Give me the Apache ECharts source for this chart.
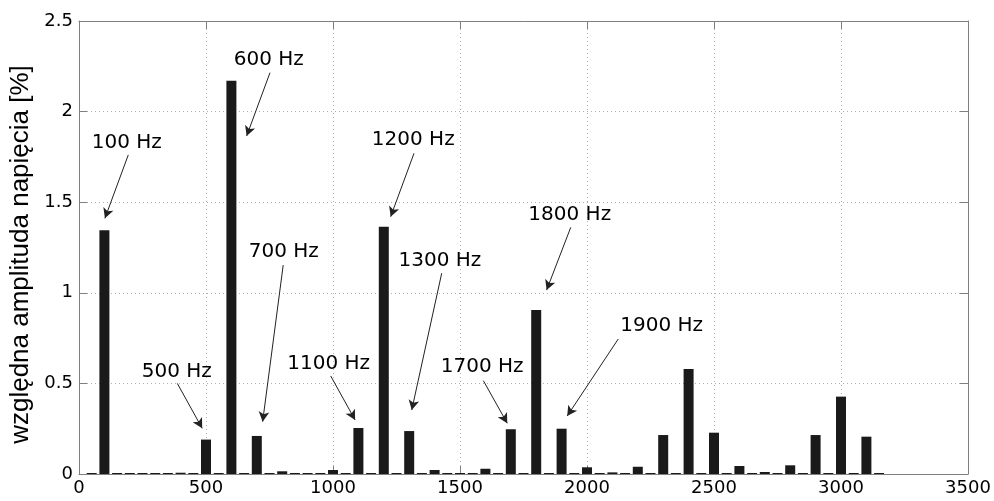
<!DOCTYPE html>
<html>
<head>
<meta charset="utf-8">
<script src="https://cdn.jsdelivr.net/npm/echarts@6/dist/echarts.min.js"></script>
<style>
html,body{margin:0;padding:0;background:#fff;}
#chart{width:994px;height:501px;}
</style>
</head>
<body>
<div id="chart"></div>
<script>
// Frequencies (Hz) of each bar
var frequencies = [50,100,150,200,250,300,350,400,450,500,550,600,650,700,750,800,850,900,950,1000,
  1050,1100,1150,1200,1250,1300,1350,1400,1450,1500,1550,1600,1650,1700,1750,1800,1850,1900,1950,2000,
  2050,2100,2150,2200,2250,2300,2350,2400,2450,2500,2550,2600,2650,2700,2750,2800,2850,2900,2950,3000,
  3050,3100,3150];
// Relative voltage amplitude [%]
var amplitudes = [0,1.345,0,0.005,0,0.003,0,0.007,0,0.19,0,2.17,0,0.21,0,0.015,0,0.003,0,0.022,
  0,0.254,0,1.365,0,0.237,0,0.022,0,0.003,0,0.029,0,0.247,0,0.905,0,0.25,0,0.037,
  0,0.009,0,0.04,0,0.215,0,0.58,0,0.228,0,0.044,0,0.011,0,0.048,0,0.215,0,0.427,
  0,0.206,0];

var xTicks = [0,500,1000,1500,2000,2500,3000,3500];
var yTicks = [0,0.5,1,1.5,2,2.5];

// Annotations: label text, label position, arrow start, arrow end (data units)
var annLabels = ['100 Hz','600 Hz','1200 Hz','700 Hz','1300 Hz','500 Hz','1100 Hz','1700 Hz','1800 Hz','1900 Hz'];
var annTextPos = [[188,1.83],[747,2.285],[1316,1.843],[806,1.227],[1421,1.175],[385,0.565],[983,0.607],[1587,0.592],[1932,1.429],[2294,0.817]];
var annArrowFrom = [[194,1.761],[752,2.215],[1319,1.770],[804,1.153],[1428,1.108],[387,0.50],[991,0.541],[1592,0.515],[1936,1.361],[2123,0.745]];
var annArrowTo = [[102,1.411],[660,1.865],[1227,1.420],[723,0.289],[1310,0.353],[485,0.252],[1087,0.298],[1686,0.28],[1841,1.015],[1922,0.32]];

var barData = frequencies.map(function(f,i){return [f, amplitudes[i]];});
var labelData = annLabels.map(function(t,i){return [annTextPos[i][0], annTextPos[i][1], t];});
var arrowData = annLabels.map(function(t,i){
  return [{coord: annArrowFrom[i]}, {coord: annArrowTo[i]}];
});

var axisColor = '#808080';
var gridStyle = {show:true, lineStyle:{color:'#b0b0b0', type:[1,3], width:1}};
var tickStyle = {show:true, inside:true, length:8, lineStyle:{color:axisColor, width:1}};

var chart = echarts.init(document.getElementById('chart'));
chart.setOption({
  animation:false,
  backgroundColor:'#fff',
  grid:{left:79, right:26, top:21, bottom:27, containLabel:false, outerBoundsMode:'none'},
  xAxis:[{
    type:'value', min:0, max:3500, interval:500, position:'bottom',
    axisLine:{show:true, onZero:false, lineStyle:{color:axisColor, width:1}},
    axisTick:tickStyle,
    splitLine:gridStyle,
    axisLabel:{color:'#000', fontSize:18, fontFamily:'DejaVu Sans', margin:5,
      customValues: xTicks,
      formatter:function(v){return String(v);}}
  },{
    type:'value', min:0, max:3500, interval:500, position:'top',
    axisLine:{show:true, onZero:false, lineStyle:{color:axisColor, width:1}},
    axisTick:tickStyle, splitLine:{show:false}, axisLabel:{show:false}
  }],
  yAxis:[{
    type:'value', min:0, max:2.5, interval:0.5, position:'left',
    name:'względna amplituda napięcia [%]', nameLocation:'middle', nameGap:45, nameRotate:90,
    nameTextStyle:{color:'#000', fontSize:26, fontFamily:'Liberation Sans', padding:[0,14,0,0]},
    axisLine:{show:true, onZero:false, lineStyle:{color:axisColor, width:1}},
    axisTick:tickStyle,
    splitLine:gridStyle,
    axisLabel:{color:'#000', fontSize:18, fontFamily:'DejaVu Sans', margin:6,
      customValues: yTicks,
      formatter:function(v){return String(v);}}
  },{
    type:'value', min:0, max:2.5, interval:0.5, position:'right',
    axisLine:{show:true, onZero:false, lineStyle:{color:axisColor, width:1}},
    axisTick:tickStyle, splitLine:{show:false}, axisLabel:{show:false}
  }],
  series:[{
    type:'bar',
    xAxisIndex:0, yAxisIndex:0,
    data:barData,
    barWidth:10,
    barMinHeight:1,
    itemStyle:{color:'#1a1a1a'},
    markLine:{
      silent:true,
      symbol:['none','arrow'],
      symbolSize:[8,10],
      label:{show:false},
      lineStyle:{color:'#222', width:1, type:'solid'},
      data:arrowData
    }
  },{
    type:'scatter',
    xAxisIndex:0, yAxisIndex:0,
    data:labelData,
    symbolSize:0,
    silent:true,
    itemStyle:{opacity:1},
    label:{show:true, position:'inside', color:'#000', opacity:1, fontSize:20, fontFamily:'DejaVu Sans',
      formatter:function(p){return p.value[2];}}
  }]
});
</script>
</body>
</html>
